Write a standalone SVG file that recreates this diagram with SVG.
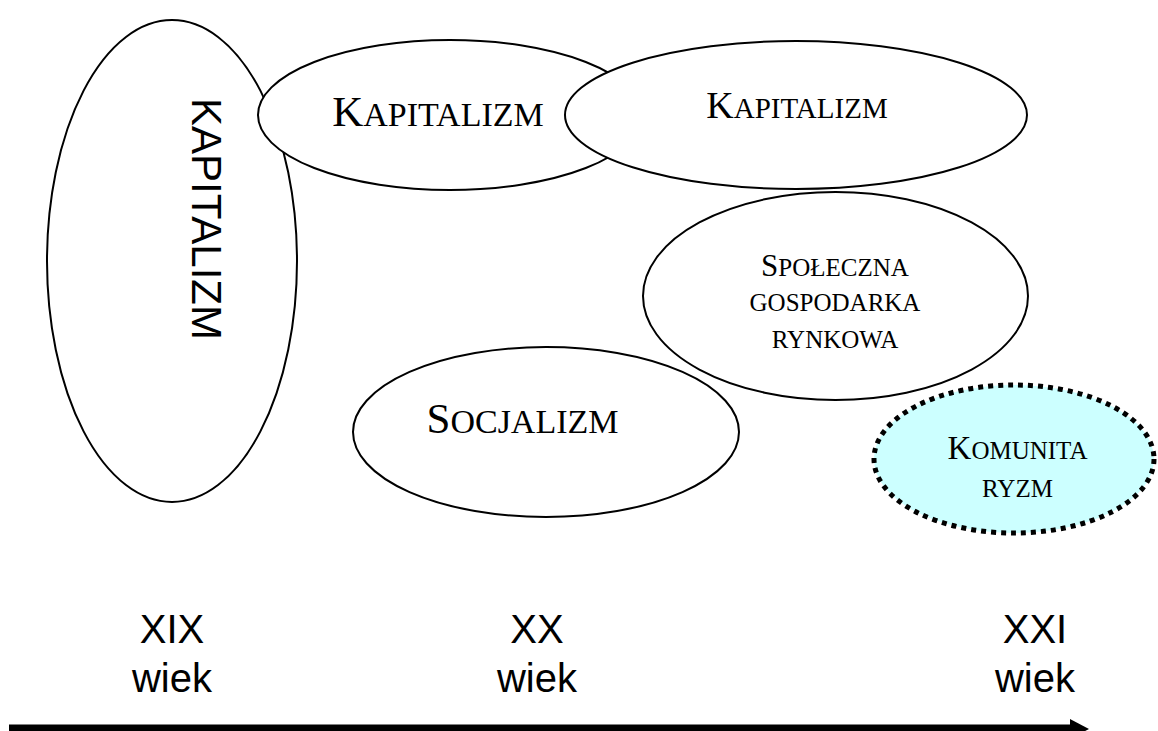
<svg xmlns="http://www.w3.org/2000/svg" width="1158" height="731" viewBox="0 0 1158 731">
<style>
.e{fill:#fff;stroke:#000;stroke-width:2}
.dot{fill:#ccffff;stroke:#000;stroke-width:5;stroke-dasharray:5 5}
.t{font-family:"Liberation Serif","Times New Roman",serif;fill:#000;text-anchor:middle}
.s{font-family:"Liberation Sans",Arial,sans-serif;fill:#000;text-anchor:middle;font-size:40px}
</style>
<rect width="1158" height="731" fill="#fff"/>
<g id="kapitalizm-xix">
<ellipse class="e" cx="172" cy="261" rx="125" ry="241"/>
<text transform="translate(192,219) rotate(90)" style="font-family:'Liberation Sans',Arial,sans-serif;font-size:42px;text-anchor:middle">KAPITALIZM</text>
</g>
<g id="kapitalizm-1">
<ellipse class="e" cx="450" cy="115" rx="192" ry="75"/>
<text class="t" x="438" y="126" font-size="34"><tspan font-size="43">K</tspan>APITALIZM</text>
</g>
<g id="kapitalizm-2">
<ellipse class="e" cx="796" cy="115" rx="231" ry="74"/>
<text class="t" x="797" y="118" font-size="29"><tspan font-size="38">K</tspan>APITALIZM</text>
</g>
<g id="spoleczna">
<ellipse class="e" cx="835.5" cy="296" rx="192.5" ry="104"/>
<text class="t" x="835" y="276" font-size="25"><tspan font-size="31">S</tspan>POŁECZNA</text>
<text class="t" x="835" y="311" font-size="25">GOSPODARKA</text>
<text class="t" x="835" y="348" font-size="25">RYNKOWA</text>
</g>
<g id="socjalizm">
<ellipse class="e" cx="546" cy="432" rx="193" ry="85"/>
<text class="t" x="522.5" y="433" font-size="34"><tspan font-size="43">S</tspan>OCJALIZM</text>
</g>
<g id="komunitaryzm">
<ellipse class="dot" cx="1014" cy="459" rx="140" ry="74"/>
<text class="t" x="1017.5" y="459" font-size="25"><tspan font-size="33">K</tspan>OMUNITA</text>
<text class="t" x="1017.5" y="497" font-size="25">RYZM</text>
</g>
<g id="label-xix"><text class="s" x="172" y="643">XIX</text><text class="s" x="172" y="692">wiek</text></g>
<g id="label-xx"><text class="s" x="537" y="643">XX</text><text class="s" x="537" y="692">wiek</text></g>
<g id="label-xxi"><text class="s" x="1035" y="643">XXI</text><text class="s" x="1035" y="692">wiek</text></g>
<g id="connectors">
<line x1="9" y1="728" x2="1072" y2="728" stroke="#000" stroke-width="7"/>
<polygon points="1070,719 1089,729 1070,739" fill="#000"/>
</g>
</svg>
